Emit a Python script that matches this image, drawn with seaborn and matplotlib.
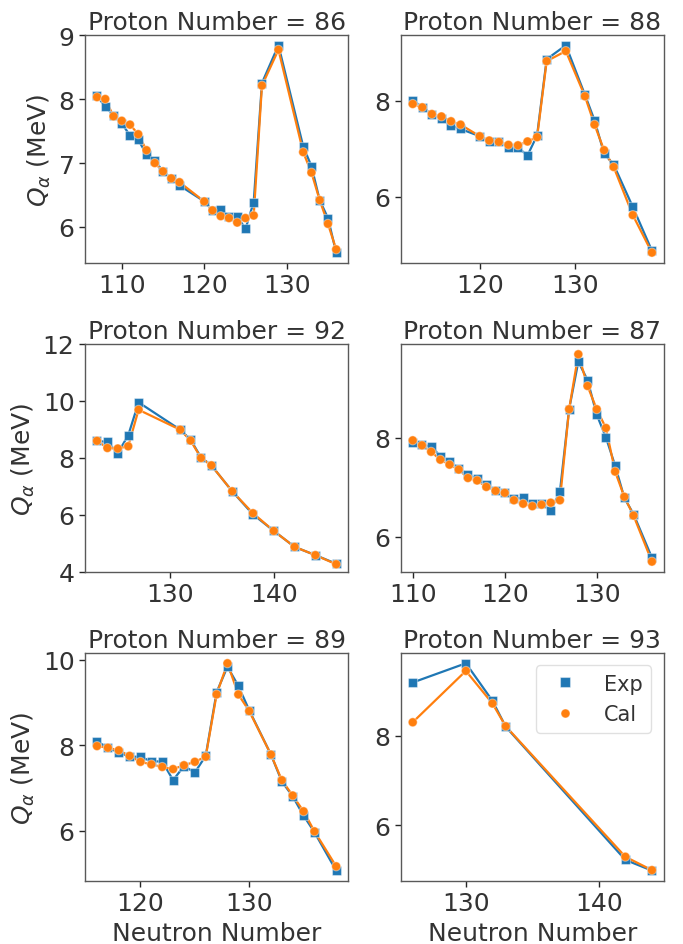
import numpy as np
import pandas as pd
import matplotlib
matplotlib.use("Agg")
import matplotlib.pyplot as plt
import seaborn as sns

# ---------------- data ----------------
proton_order = [86, 88, 92, 87, 89, 93]

n_86 = [107, 108, 109, 110, 111, 112, 113, 114, 115, 116, 117, 120, 121, 122, 123, 124, 125, 126, 127, 129, 132, 133, 134, 135, 136]
exp_86 = [8.05, 7.88, 7.75, 7.62, 7.43, 7.36, 7.14, 7.04, 6.87, 6.76, 6.65, 6.40, 6.26, 6.27, 6.17, 6.17, 5.97, 6.39, 8.25, 8.84, 7.26, 6.95, 6.42, 6.14, 5.60]
cal_86 = [8.03, 8.00, 7.73, 7.66, 7.60, 7.45, 7.20, 7.00, 6.87, 6.76, 6.70, 6.40, 6.26, 6.17, 6.14, 6.07, 6.14, 6.18, 8.21, 8.77, 7.17, 6.85, 6.42, 6.05, 5.65]

n_88 = [113, 114, 115, 116, 117, 118, 120, 121, 122, 123, 124, 125, 126, 127, 129, 131, 132, 133, 134, 136, 138]
exp_88 = [8.01, 7.86, 7.72, 7.62, 7.48, 7.41, 7.26, 7.14, 7.15, 7.03, 7.02, 6.86, 7.28, 8.86, 9.15, 8.12, 7.59, 6.90, 6.67, 5.79, 4.88]
cal_88 = [7.93, 7.86, 7.72, 7.67, 7.57, 7.50, 7.26, 7.17, 7.14, 7.08, 7.07, 7.15, 7.24, 8.82, 9.03, 8.09, 7.50, 6.97, 6.62, 5.62, 4.84]

n_92 = [123, 124, 125, 126, 127, 131, 132, 133, 134, 136, 138, 140, 142, 144, 146]
exp_92 = [8.60, 8.56, 8.17, 8.79, 9.95, 8.99, 8.64, 8.02, 7.74, 6.83, 6.02, 5.44, 4.88, 4.59, 4.29]
cal_92 = [8.60, 8.35, 8.33, 8.41, 9.69, 8.99, 8.61, 8.00, 7.74, 6.83, 6.06, 5.44, 4.88, 4.59, 4.27]

n_87 = [110, 111, 112, 113, 114, 115, 116, 117, 118, 119, 120, 121, 122, 123, 124, 125, 126, 127, 128, 129, 130, 131, 132, 133, 134, 136]
exp_87 = [7.91, 7.86, 7.83, 7.63, 7.52, 7.39, 7.26, 7.17, 7.06, 6.93, 6.89, 6.77, 6.79, 6.67, 6.67, 6.54, 6.91, 8.58, 9.54, 9.17, 8.47, 8.01, 7.44, 6.79, 6.46, 5.58]
cal_87 = [7.95, 7.85, 7.72, 7.56, 7.46, 7.36, 7.19, 7.14, 7.01, 6.93, 6.89, 6.74, 6.67, 6.62, 6.65, 6.69, 6.74, 8.58, 9.69, 9.05, 8.58, 8.20, 7.32, 6.81, 6.43, 5.50]

n_89 = [116, 117, 118, 119, 120, 121, 122, 123, 124, 125, 126, 127, 128, 129, 130, 132, 133, 134, 135, 136, 138]
exp_89 = [8.09, 7.94, 7.83, 7.73, 7.73, 7.62, 7.62, 7.18, 7.51, 7.36, 7.75, 9.24, 9.84, 9.39, 8.82, 7.78, 7.15, 6.80, 6.35, 5.96, 5.06]
cal_89 = [7.98, 7.94, 7.88, 7.75, 7.61, 7.55, 7.49, 7.44, 7.53, 7.61, 7.73, 9.19, 9.92, 9.19, 8.80, 7.78, 7.18, 6.82, 6.45, 5.98, 5.16]

n_93 = [126, 130, 132, 133, 142, 144]
exp_93 = [9.19, 9.62, 8.78, 8.20, 5.22, 4.98]
cal_93 = [8.30, 9.45, 8.72, 8.21, 5.29, 4.99]

neutrons = {86: n_86, 88: n_88, 92: n_92, 87: n_87, 89: n_89, 93: n_93}
exps = {86: exp_86, 88: exp_88, 92: exp_92, 87: exp_87, 89: exp_89, 93: exp_93}
cals = {86: cal_86, 88: cal_88, 92: cal_92, 87: cal_87, 89: cal_89, 93: cal_93}

rows = []
for z in proton_order:
    for n, e in zip(neutrons[z], exps[z]):
        rows.append((z, n, e, "Exp"))
    for n, c in zip(neutrons[z], cals[z]):
        rows.append((z, n, c, "Cal"))
df = pd.DataFrame(rows, columns=["Z", "N", "Q", "Type"])

# ---------------- style ----------------
sns.set_theme(style="ticks")
plt.rcParams.update({
    "font.family": ["DejaVu Sans"],
    "axes.edgecolor": ".35",
    "axes.linewidth": 1.0,
    "xtick.color": ".15",
    "ytick.color": ".15",
    "text.color": ".2",
    "axes.labelcolor": ".2",
    "xtick.labelcolor": ".2",
    "ytick.labelcolor": ".2",
})

palette = {"Exp": "#1f77b4", "Cal": "#ff7f0e"}
markers = {"Exp": "s", "Cal": "o"}

fig, axes = plt.subplots(3, 2, figsize=(6.83, 9.45), dpi=100)
fig.subplots_adjust(left=0.1245, right=0.972, top=0.962, bottom=0.0667,
                    wspace=0.2, hspace=0.355)

for i, (ax, z) in enumerate(zip(axes.flat, proton_order)):
    sub = df[df["Z"] == z]
    sns.lineplot(data=sub, x="N", y="Q", hue="Type", palette=palette,
                 hue_order=["Exp", "Cal"], linewidth=1.6, legend=False, ax=ax,
                 sort=True)
    sns.scatterplot(data=sub, x="N", y="Q", hue="Type", style="Type",
                    palette=palette, markers=markers, hue_order=["Exp", "Cal"],
                    style_order=["Exp", "Cal"], s=42, edgecolor=(1, 1, 1, 0.4),
                    linewidth=0.8, legend=(i == 5), ax=ax, zorder=3)
    ax.set_title(f"Proton Number = {z}", fontsize=18, pad=4)
    ax.tick_params(labelsize=18, length=4, width=1)
    for sp in ax.spines.values():
        sp.set_visible(True)
    if i % 2 == 0:
        ax.set_ylabel(r"$Q_\alpha$ (MeV)", fontsize=18)
    else:
        ax.set_ylabel("")
    if i >= 4:
        ax.set_xlabel("Neutron Number", fontsize=18)
    else:
        ax.set_xlabel("")
    if z == 92:
        ax.set_ylim(4, 12)

leg = axes.flat[5].legend(loc="upper right", fontsize=15, frameon=True,
                          handletextpad=0.9, borderaxespad=0.6,
                          markerscale=1.0)
leg.get_frame().set_edgecolor(".85")

fig.savefig("out.png", dpi=100)
